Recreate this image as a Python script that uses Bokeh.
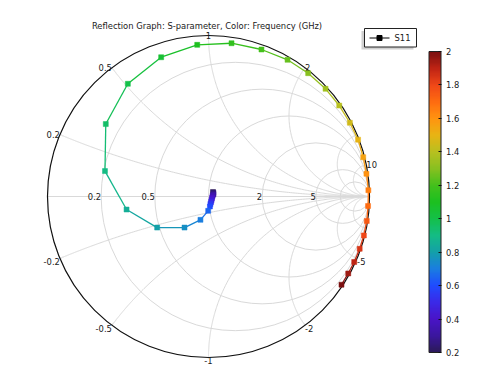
import numpy as np
from bokeh.plotting import figure
from bokeh.models import Range1d, ColumnDataSource, LinearColorMapper, ColorBar, FixedTicker, CustomJSTickFormatter
from bokeh.transform import linear_cmap
from bokeh.core.properties import value
from bokeh.embed import file_html
from bokeh.resources import INLINE

# ---------------- data ----------------
freq_ghz = [0.20, 0.25, 0.30, 0.35, 0.40, 0.45, 0.50, 0.55, 0.60, 0.65,
            0.70, 0.75, 0.80, 0.85, 0.90, 0.95, 1.00, 1.05, 1.10, 1.15,
            1.20, 1.25, 1.30, 1.35, 1.40, 1.45, 1.50, 1.55, 1.60, 1.65,
            1.70, 1.75, 1.80, 1.85, 1.90, 1.95, 2.00]
s11_re = [0.028, 0.031, 0.030, 0.025, 0.022, 0.019, 0.016, 0.012, 0.009, -0.002,
          -0.050, -0.149, -0.319, -0.509, -0.643, -0.638, -0.501, -0.294, -0.070, 0.143,
          0.329, 0.491, 0.619, 0.727, 0.812, 0.878, 0.929, 0.961, 0.981, 0.993,
          0.991, 0.983, 0.965, 0.939, 0.905, 0.868, 0.826]
s11_im = [0.028, 0.022, 0.012, 0.003, -0.009, -0.022, -0.034, -0.047, -0.062, -0.089,
          -0.145, -0.193, -0.193, -0.081, 0.158, 0.450, 0.700, 0.865, 0.942, 0.952,
          0.913, 0.849, 0.766, 0.669, 0.565, 0.458, 0.353, 0.244, 0.141, 0.039,
          -0.059, -0.152, -0.242, -0.325, -0.407, -0.478, -0.548]

resistance_grid = [0.2, 0.5, 1, 2, 5, 10]
reactance_grid = [0.2, 0.5, 1, 2, 5, 10]
real_axis_labels = [0.2, 0.5, 2, 5]
upper_labels = [0.2, 0.5, 1, 2, 10]
lower_labels = [-0.2, -0.5, -1, -2, -5]
cbar_ticks = [0.2, 0.4, 0.6, 0.8, 1.0, 1.2, 1.4, 1.6, 1.8, 2.0]
title_text = "Reflection Graph: S-parameter, Color: Frequency (GHz)"
legend_text = "S11"
f_lo, f_hi = 0.2, 2.0

# ---------------- layout ----------------
W, H = 479, 366
CX, CY, R = 208.0, 196.0, 161.0   # canvas pixels of chart centre, radius

def dx(px):
    return (px - CX) / R

def dy(py):
    return (CY - py) / R

FONT = value("DejaVu Sans")
FS = "8.4px"
TXT = "#1a1a1a"
GRID = "#d9d9d9"

# COMSOL-like "Rainbow" palette
anchors = [(0.2, "#2c1a5a"), (0.3, "#3b16a0"), (0.4, "#4a14c8"), (0.5, "#3a2ae8"),
           (0.6, "#1f4cff"), (0.7, "#1a7ee0"), (0.8, "#14a0a8"), (0.9, "#14bc84"),
           (1.0, "#14c048"), (1.1, "#1cc020"), (1.2, "#44c01c"), (1.3, "#88c020"),
           (1.4, "#b8c020"), (1.5, "#e8b414"), (1.6, "#ff9410"), (1.7, "#ff6c10"),
           (1.8, "#f04818"), (1.9, "#c02414"), (2.0, "#7c1010")]
av = np.array([a[0] for a in anchors])
ac = np.array([[int(h[1:3], 16), int(h[3:5], 16), int(h[5:7], 16)] for _, h in anchors], float)
tv = np.linspace(f_lo, f_hi, 256)
palette = ["#%02x%02x%02x" % tuple(int(round(np.interp(t, av, ac[:, k]))) for k in range(3)) for t in tv]

p = figure(width=W, height=H, output_backend="svg", toolbar_location=None,
           x_range=Range1d(dx(0), dx(W)), y_range=Range1d(dy(H), dy(0)),
           x_axis_type=None, y_axis_type=None, min_border=0)
p.outline_line_color = None
p.xgrid.visible = False
p.ygrid.visible = False
p.background_fill_color = "white"

# ---------------- Smith grid ----------------
rc = np.array(resistance_grid, float)
p.circle(x=rc / (1 + rc), y=np.zeros_like(rc), radius=1 / (1 + rc),
         fill_color=None, line_color=GRID, line_width=1)
rr = np.concatenate([[0.0], np.geomspace(1e-3, 1e5, 600)])
xs, ys = [], []
for xv in reactance_grid:
    for sgn in (1, -1):
        z = rr + 1j * sgn * xv
        g = (z - 1) / (z + 1)
        xs.append(g.real)
        ys.append(g.imag)
xs.append(np.array([-1.0, 1.0]))
ys.append(np.array([0.0, 0.0]))
p.multi_line(xs=xs, ys=ys, line_color=GRID, line_width=1)
p.circle(x=[0], y=[0], radius=1.0, fill_color=None, line_color="#111111", line_width=1.2)

# ---------------- grid labels ----------------
ra = np.array(real_axis_labels, float)
p.text(x=(ra - 1) / (ra + 1), y=np.zeros_like(ra), text=[("%g" % v) for v in ra],
       text_align="right", text_baseline="alphabetic", y_offset=-0.5,
       text_font=FONT, text_font_size=FS, text_color=TXT)

def rim(xv):
    g = (1j * xv - 1) / (1j * xv + 1)
    return g.real, g.imag

ua = np.array(upper_labels, float)
ux, uy = rim(ua)
aligns = ["right" if v < 1 else ("center" if v == 1 else "left") for v in ua]
p.text(x=ux, y=uy, text=[("%g" % v) for v in ua], text_align=aligns,
       text_baseline="alphabetic", text_font=FONT, text_font_size=FS, text_color=TXT)

la = np.array(lower_labels, float)
lx, ly = rim(la)
aligns = ["right" if v > -1 else ("center" if v == -1 else "left") for v in la]
yo = [-0.5 if v == -1 else 0 for v in la]
p.text(x=lx, y=ly, text=[("%g" % v) for v in la], text_align=aligns,
       text_baseline="top", y_offset=yo, text_font=FONT, text_font_size=FS, text_color=TXT)

# ---------------- data ----------------
fr = np.array(freq_ghz)
re = np.array(s11_re)
im = np.array(s11_im)
seg = ColumnDataSource(dict(x0=re[:-1], y0=im[:-1], x1=re[1:], y1=im[1:],
                            fm=(fr[:-1] + fr[1:]) / 2))
p.segment(x0="x0", y0="y0", x1="x1", y1="y1", source=seg, line_width=1.3,
          line_color=linear_cmap("fm", palette, f_lo, f_hi))
pts = ColumnDataSource(dict(x=re, y=im, f=fr))
p.scatter(x="x", y="y", source=pts, marker="square", size=5, line_width=0.5,
          fill_color=linear_cmap("f", palette, f_lo, f_hi),
          line_color=linear_cmap("f", palette, f_lo, f_hi))

# ---------------- title ----------------
p.text(x=[dx(206.5)], y=[dy(25.5)], text=[title_text], text_align="center",
       text_baseline="alphabetic", text_font=FONT, text_font_size=FS, text_color=TXT)

# ---------------- legend (drawn) ----------------
p.quad(left=[dx(361)], right=[dx(413)], top=[dy(30.5)], bottom=[dy(49)],
       fill_color="#cfcfcf", line_color=None)
p.quad(left=[dx(364)], right=[dx(416)], top=[dy(28)], bottom=[dy(46.5)],
       fill_color="white", line_color="#222222", line_width=1)
p.line(x=[dx(369), dx(389)], y=[dy(37.5), dy(37.5)], line_color="black", line_width=1.2)
p.scatter(x=[dx(379)], y=[dy(37.5)], marker="square", size=5, color="black")
p.text(x=[dx(394)], y=[dy(37.5)], text=[legend_text], text_align="left",
       text_baseline="middle", text_font=FONT, text_font_size=FS, text_color=TXT)

# ---------------- colour bar ----------------
mapper = LinearColorMapper(palette=palette, low=f_lo, high=f_hi)
cb = ColorBar(color_mapper=mapper, location=(428.5, 14), width=12, height=301,
              padding=0, margin=0, orientation="vertical",
              ticker=FixedTicker(ticks=cbar_ticks),
              formatter=CustomJSTickFormatter(code="return (Math.round(tick*10)/10).toString()"),
              major_label_text_font="DejaVu Sans", major_label_text_font_size=FS,
              major_label_text_color=TXT, label_standoff=5,
              major_tick_line_color="#111111", major_tick_in=3, major_tick_out=0,
              minor_tick_line_color=None,
              bar_line_color="#222222", bar_line_width=1,
              background_fill_color=None, border_line_color=None)
p.add_layout(cb)

open("out.html", "w").write(file_html(p, INLINE))
